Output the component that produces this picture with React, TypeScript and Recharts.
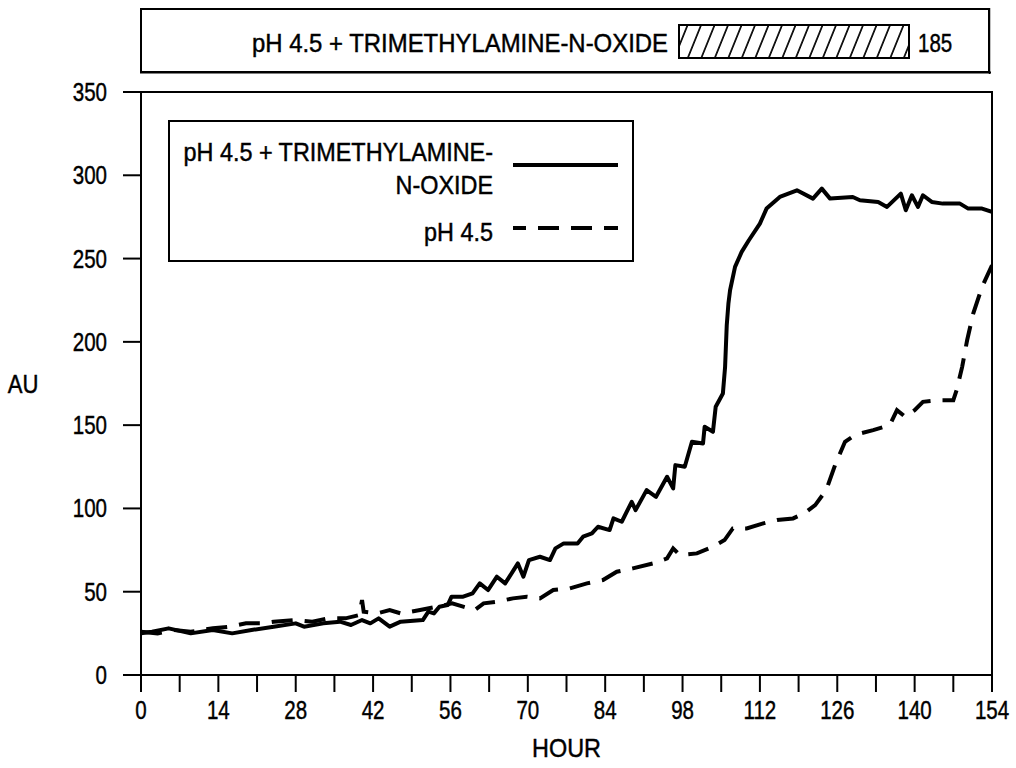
import { LineChart, Line, XAxis, YAxis, ReferenceArea, Legend } from 'recharts';

// hours / absorbance
const tmaoHours = [0, 2, 5, 9, 13, 16.5, 20, 24, 28, 29.5, 33, 36, 38, 40, 41.5, 43, 45, 47, 51, 52, 53, 54, 55.5, 56.2, 58.3, 60, 61.3, 62.8, 64.4, 65.9, 68.2, 69.2, 70.2, 72.2, 74, 75, 76.5, 79, 80, 81.6, 82.7, 84.8, 85.5, 87, 88.8, 89.5, 91.5, 93.2, 95.2, 96.3, 96.7, 98.4, 99.7, 101.7, 102, 103.5, 104, 105.3, 105.7, 106, 106.3, 106.6, 107.5, 108.7, 110, 112, 113.2, 115.6, 118.7, 121.6, 123.2, 124.7, 128.8, 130.1, 133.4, 135, 137.5, 138.4, 139.5, 140.6, 141.5, 143.1, 145.1, 148.2, 149.7, 152.2, 154];
const tmaoAU = [25, 26, 28, 25, 27, 25, 27, 29, 31, 29, 31, 32, 30, 33, 31, 34, 29, 32, 33, 38, 37, 41, 42, 47, 47, 49, 55, 51, 59, 55, 67, 59, 69, 71, 69, 76, 79, 79, 83, 85, 89, 87, 94, 92, 104, 99, 111, 107, 119, 112, 126, 125, 140, 139, 149, 146, 161, 169, 185, 210, 223, 231, 245, 254, 261, 271, 280, 287, 291, 286, 292, 286, 287, 285, 284, 281, 289, 279, 288, 281, 288, 284, 283, 283, 280, 280, 278];

const phHours = [0, 3, 6, 9, 13, 16, 19, 22, 24, 28, 31, 34, 37, 39.5, 40, 40.3, 42.7, 45, 47, 50.5, 53.6, 56.3, 58.3, 60.4, 62, 64.4, 67.3, 69.8, 72.2, 74.6, 77.6, 80.7, 83.6, 86.1, 89, 92.7, 95.2, 96.3, 97.5, 100.6, 103.5, 105.6, 107.1, 109.6, 112.6, 115.1, 118, 120, 122, 124, 125.6, 127.4, 129.2, 130.1, 132.5, 135.5, 136.8, 138.3, 140, 141.5, 144.6, 147, 147.6, 148.6, 149.5, 150.6, 152.2, 154];
const phAU = [26, 25, 27, 26, 28, 29, 31, 31, 32, 33, 32, 34, 34, 36, 45, 38, 37, 39, 37, 39, 41, 43, 41, 39, 43, 44, 46, 47, 46, 51, 52, 55, 57, 62, 64, 67, 70, 76, 72, 73, 77, 81, 88, 88, 91, 93, 94, 97, 102, 111, 126, 140, 144, 145, 147, 150, 159, 155, 159, 164, 165, 165, 171, 185, 201, 217, 233, 246];

const xTicks = [0, 7, 14, 21, 28, 35, 42, 49, 56, 63, 70, 77, 84, 91, 98, 105, 112, 119, 126, 133, 140, 147, 154];
const yTicks = [0, 50, 100, 150, 200, 250, 300, 350];

const tmaoName = 'pH 4.5 + TRIMETHYLAMINE-N-OXIDE';
const phName = 'pH 4.5';
const topBoxValue = 185;

const tmaoData = tmaoHours.map((h, i) => ({ hour: h, au: tmaoAU[i] }));
const phData = phHours.map((h, i) => ({ hour: h, au: phAU[i] }));

const FONT = "'Liberation Sans', Arial, Helvetica, sans-serif";
const DIGIT_SCALE = 0.79;
const WORD_SCALE = 0.9;
// scanned figure text is a bit heavier than plain Liberation Sans
const textStyle = { fontSize: 26, fontFamily: FONT, fill: '#000', stroke: '#000', strokeWidth: 0.45 };

const XTick = ({ x, y, payload }: any) => {
  if (payload.value % 14 !== 0) return null;
  return (
    <g transform={`translate(${x},${y})`}>
      <text transform={`scale(${DIGIT_SCALE},1)`} textAnchor="middle" dy={27} {...textStyle}>
        {payload.value}
      </text>
    </g>
  );
};

const YTick = ({ x, y, payload }: any) => (
  <g transform={`translate(${x},${y})`}>
    <text transform={`scale(${DIGIT_SCALE},1)`} textAnchor="end" dy={9} {...textStyle}>
      {payload.value}
    </text>
  </g>
);

const renderLegend = () => (
  <svg width={467} height={143} style={{ display: 'block' }}>
    <rect x={1} y={1} width={464} height={140} fill="#fff" stroke="#000" strokeWidth={2} />
    <g textAnchor="end">
      <g transform={`translate(325,41) scale(${WORD_SCALE},1)`}>
        <text {...textStyle}>pH 4.5 + TRIMETHYLAMINE-</text>
      </g>
      <g transform={`translate(325,74) scale(${WORD_SCALE},1)`}>
        <text {...textStyle}>N-OXIDE</text>
      </g>
      <g transform={`translate(325,121) scale(${WORD_SCALE},1)`}>
        <text {...textStyle}>pH 4.5</text>
      </g>
    </g>
    <line x1={345} x2={450} y1={45} y2={45} stroke="#000" strokeWidth={4} />
    <line x1={345} x2={450} y1={108} y2={108} stroke="#000" strokeWidth={4} strokeDasharray="13 12 21 12 21 12 15" />
  </svg>
);

function TopBox() {
  return (
    <svg width={851} height={66} style={{ position: 'absolute', left: 140, top: 8 }}>
      <defs>
        <pattern id="hatch" patternUnits="userSpaceOnUse" width={13.5} height={34} patternTransform="skewX(-22)">
          <line x1={1} y1={0} x2={1} y2={34} stroke="#000" strokeWidth={1.8} />
        </pattern>
      </defs>
      <rect x={1} y={1} width={848} height={63} fill="#fff" stroke="#000" strokeWidth={2} />
      <line x1={0} x2={851} y1={64.5} y2={64.5} stroke="#000" strokeWidth={2} />
      <line x1={849.5} x2={849.5} y1={0} y2={66} stroke="#000" strokeWidth={1.5} />
      <g transform={`translate(528,44) scale(${WORD_SCALE + 0.02},1)`}>
        <text textAnchor="end" {...textStyle}>{tmaoName}</text>
      </g>
      <rect x={539} y={17} width={230} height={33} fill="url(#hatch)" stroke="#000" strokeWidth={2} />
      <g transform={`translate(778,44) scale(${DIGIT_SCALE},1)`}>
        <text {...textStyle}>{topBoxValue}</text>
      </g>
    </svg>
  );
}

export default function App() {
  return (
    <div style={{ position: 'absolute', left: 0, top: 0, width: 1016, height: 768, background: '#fff' }}>
      <LineChart width={1016} height={768} margin={{ top: 92, right: 24, bottom: 0, left: 0 }}>
        <XAxis
          dataKey="hour"
          type="number"
          domain={[0, 154]}
          ticks={xTicks}
          interval={0}
          allowDataOverflow
          height={93}
          tickSize={17}
          tickMargin={0}
          axisLine={{ stroke: '#000', strokeWidth: 2 }}
          tickLine={{ stroke: '#000', strokeWidth: 2 }}
          tick={<XTick />}
          label={({ viewBox }: any) => (
            <g transform={`translate(${viewBox.x + viewBox.width / 2},${viewBox.y + 82}) scale(${WORD_SCALE},1)`}>
              <text textAnchor="middle" {...textStyle}>HOUR</text>
            </g>
          )}
        />
        <YAxis
          type="number"
          domain={[0, 350]}
          ticks={yTicks}
          interval={0}
          allowDataOverflow
          width={141}
          tickSize={18}
          tickMargin={16}
          axisLine={{ stroke: '#000', strokeWidth: 2 }}
          tickLine={{ stroke: '#000', strokeWidth: 2 }}
          tick={<YTick />}
          label={({ viewBox }: any) => (
            <g transform={`translate(23,${viewBox.y + viewBox.height / 2 + 9}) scale(0.85,1)`}>
              <text textAnchor="middle" {...textStyle}>AU</text>
            </g>
          )}
        />
        <ReferenceArea x1={0} x2={154} y1={0} y2={350} fill="none" stroke="#000" strokeWidth={2} />
        <Legend
          layout="vertical"
          align="center"
          verticalAlign="middle"
          content={renderLegend}
          wrapperStyle={{ left: 168, top: 120, width: 467, height: 143 }}
        />
        <Line
          data={tmaoData}
          dataKey="au"
          name={tmaoName}
          type="linear"
          stroke="#000"
          strokeWidth={4}
          strokeLinejoin="round"
          dot={false}
          activeDot={false}
          isAnimationActive={false}
        />
        <Line
          data={phData}
          dataKey="au"
          name={phName}
          type="linear"
          stroke="#000"
          strokeWidth={4}
          strokeDasharray="21 12"
          dot={false}
          activeDot={false}
          isAnimationActive={false}
        />
      </LineChart>
      <TopBox />
    </div>
  );
}
